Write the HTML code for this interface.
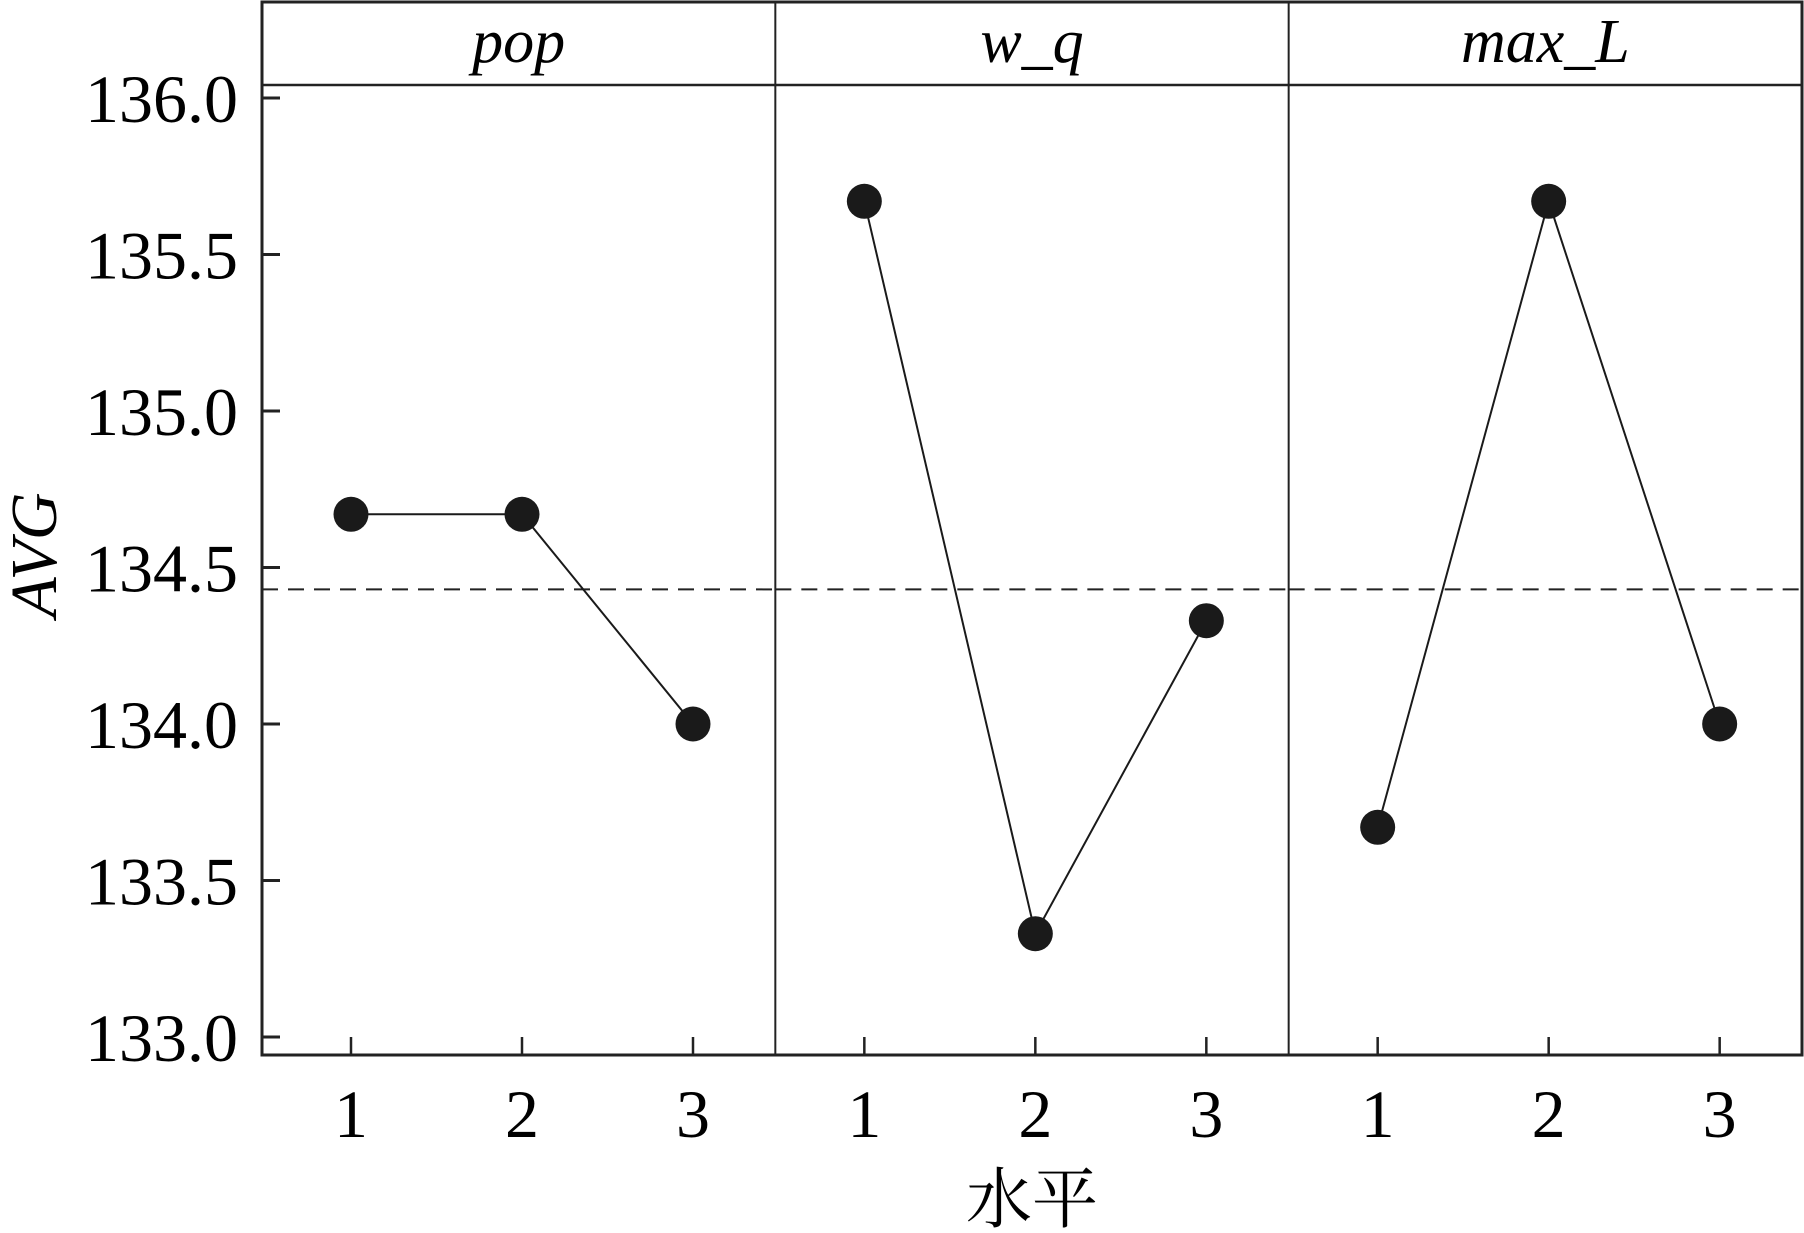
<!DOCTYPE html>
<html><head><meta charset="utf-8"><style>html,body{margin:0;padding:0;background:#fff}svg{display:block}text{font-family:"Liberation Serif","Times New Roman","Noto Serif CJK SC",serif}</style></head>
<body>
<svg width="1804" height="1233" viewBox="0 0 1804 1233" xmlns="http://www.w3.org/2000/svg">
<g id="chart"></g>
</svg>
<script>
const panels = ["pop", "w_q", "max_L"];
const levels = ["1", "2", "3"];
const popValues = [134.67, 134.67, 134.0];
const wqValues = [135.67, 133.33, 134.33];
const maxLValues = [133.67, 135.67, 134.0];
const meanValue = 134.43;
const yTicks = [133.0, 133.5, 134.0, 134.5, 135.0, 135.5, 136.0];
const yTickLabels = ["133.0", "133.5", "134.0", "134.5", "135.0", "135.5", "136.0"];
const series = [popValues, wqValues, maxLValues];

const NS = "http://www.w3.org/2000/svg";
const g = document.getElementById("chart");
const L = 262, R = 1802, T = 2, STRIPB = 85, B = 1055;
const pw = (R - L) / panels.length;
function y(v){ return 1037 + (v - 133.0) * (98 - 1037) / 3.0; }
function x(p, i){ return L + p * pw + 89 + i * 171; }
function el(tag, attrs, parent){ const e = document.createElementNS(NS, tag); for (const k in attrs) e.setAttribute(k, attrs[k]); (parent || g).appendChild(e); return e; }

const frame = el("rect", {x: L, y: T, width: R - L, height: B - T, fill: "none", stroke: "#222", "stroke-width": 3});


const strip = el("line", {x1: L, x2: R, y1: STRIPB, y2: STRIPB, stroke: "#222", "stroke-width": 2.5});



panels.forEach((name, p) => {
  if (p > 0) {
    const d = el("line", {x1: L + p * pw, x2: L + p * pw, y1: T, y2: B, stroke: "#222", "stroke-width": 2});
    
    
  }
  const t = el("text", {x: L + p * pw + pw / 2, y: 62, "text-anchor": "middle", "font-size": 62, "font-style": "italic"});
  t.textContent = name;
  
  
  const m = el("line", {x1: L + p * pw, x2: L + (p + 1) * pw, y1: y(meanValue), y2: y(meanValue), stroke: "#222", "stroke-width": 2, "stroke-dasharray": "16,10"});
  
  
  levels.forEach((lv, i) => {
    const tk = el("line", {x1: x(p, i), x2: x(p, i), y1: B, y2: B - 18, stroke: "#222", "stroke-width": 2.5});
    
    
    const tl = el("text", {x: x(p, i), y: 1137, "text-anchor": "middle", "font-size": 68});
    tl.textContent = lv;
    
    
  });
  const vals = series[p];
  const pts = vals.map((v, i) => x(p, i) + "," + y(v)).join(" ");
  const pl = el("polyline", {points: pts, fill: "none", stroke: "#1a1a1a", "stroke-width": 2});
  
  
  vals.forEach((v, i) => {
    const c = el("circle", {cx: x(p, i), cy: y(v), r: 17.5, fill: "#1a1a1a"});
    
    
  });
});

yTicks.forEach((v, i) => {
  const tk = el("line", {x1: L, x2: L + 18, y1: y(v), y2: y(v), stroke: "#222", "stroke-width": 3});
  
  
  const tl = el("text", {x: 238, y: y(v) + 24, "text-anchor": "end", "font-size": 68});
  tl.textContent = yTickLabels[i];
  
  
});

const yl = el("text", {x: 0, y: 0, "text-anchor": "middle", "font-size": 66, "font-style": "italic", transform: "translate(56,555) rotate(-90)"});
yl.textContent = "AVG";


const xl = el("text", {x: 1032, y: 1222, "text-anchor": "middle", "font-size": 66});
xl.textContent = "水平";


</script>
</body></html>
